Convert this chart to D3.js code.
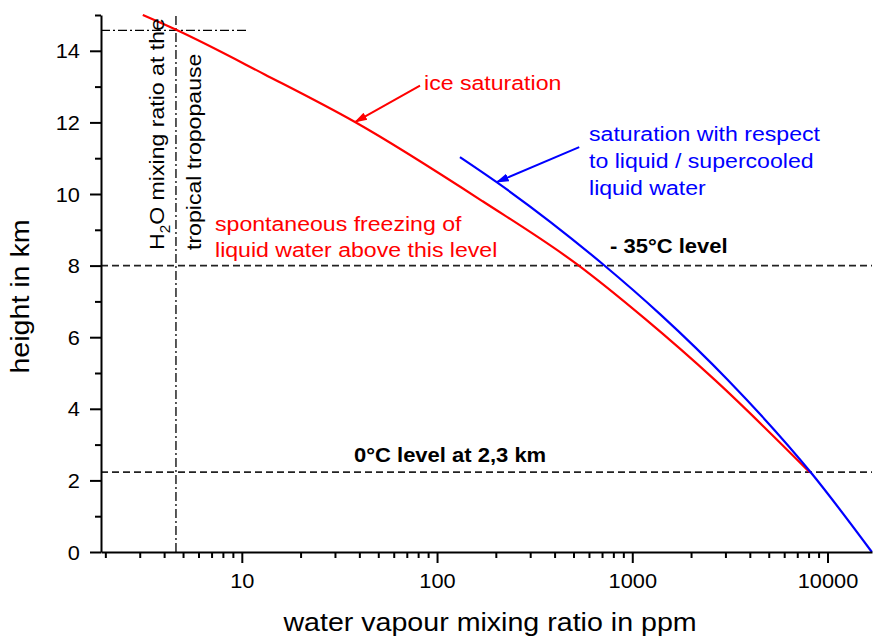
<!DOCTYPE html>
<html>
<head>
<meta charset="utf-8">
<script src="https://cdn.jsdelivr.net/npm/d3@7"></script>
<style>
  body { margin: 0; background: #fff; }
  text { font-family: "Liberation Sans", Arial, sans-serif; }
</style>
</head>
<body>
<svg id="chart" width="874" height="639"></svg>
<script>
// ice saturation curve (ppm, km)
var icePpm    = [3.11, 4.64, 13.1, 38.0, 172, 520, 1164, 2655, 8130];
var iceHeight = [15.0, 14.58, 13.34, 12.01, 9.79, 8.04, 6.51, 4.80, 2.22];

// saturation over liquid / supercooled water (ppm, km)
var liquidPpm    = [131, 202, 710, 1396, 3105, 8280, 16870];
var liquidHeight = [11.03, 10.33, 8.03, 6.63, 4.79, 2.2, 0];

var yTicks = [0, 2, 4, 6, 8, 10, 12, 14];
var yMinor = [1, 3, 5, 7, 9, 11, 13, 15];
var xTicks = [10, 100, 1000, 10000];

// -35°C level and 0°C level
var levelHeights = [8.0, 2.23];

// tropopause marker lines
var tropoPpm = 4.6, tropoHeight = 14.57, tropoLineEnd = 10.8;

// arrows: [fromPpm, fromKm, toPpm, toKm]
var iceArrow = [81.8, 13.03, 38.0, 12.01];
var liqArrow = [535, 11.31, 202, 10.33];

var svg = d3.select("#chart");

var x = d3.scaleLog().domain([1.9, 16900]).range([101, 872]);
var y = d3.scaleLinear().domain([0, 15]).range([552, 15]);

// text helper, glyphs are a bit wider than Arial in the original
function addText(px, py, str, o) {
  o = o || {};
  return svg.append("text")
    .attr("transform", "translate(" + px + "," + py + ")" + (o.rotate ? " rotate(-90)" : "") + " scale(" + (o.sx || 1.1) + ",1)")
    .attr("font-size", o.size || 21)
    .attr("fill", o.color || "#000")
    .attr("text-anchor", o.anchor || "start")
    .attr("font-weight", o.bold ? "bold" : null)
    .text(str);
}

// level lines (dashed)
svg.selectAll(".level")
  .data(levelHeights)
  .enter().append("line")
  .attr("class", "level")
  .attr("x1", x(1.9)).attr("x2", x(16900))
  .attr("y1", d => y(d)).attr("y2", d => y(d))
  .attr("stroke", "#222")
  .attr("stroke-width", 1.6)
  .attr("stroke-dasharray", "7,4");

// tropopause dash-dot lines
svg.append("line")
  .attr("x1", x(tropoPpm)).attr("x2", x(tropoPpm))
  .attr("y1", y(0)).attr("y2", y(15))
  .attr("stroke", "#000").attr("stroke-width", 1.3)
  .attr("stroke-dasharray", "9,3,2,3");
svg.append("line")
  .attr("x1", x(1.9)).attr("x2", x(tropoLineEnd))
  .attr("y1", y(tropoHeight)).attr("y2", y(tropoHeight))
  .attr("stroke", "#000").attr("stroke-width", 1.3)
  .attr("stroke-dasharray", "9,3,2,3");

// curves
var line = d3.line()
  .x(d => x(d[0]))
  .y(d => y(d[1]))
  .curve(d3.curveMonotoneX);

svg.append("path")
  .datum(d3.zip(icePpm, iceHeight))
  .attr("d", line)
  .attr("fill", "none")
  .attr("stroke", "#ff0000")
  .attr("stroke-width", 2.2);

svg.append("path")
  .datum(d3.zip(liquidPpm, liquidHeight))
  .attr("d", line)
  .attr("fill", "none")
  .attr("stroke", "#0000ff")
  .attr("stroke-width", 2.2);

// axes
var yAxis = svg.append("g")
  .attr("transform", "translate(" + x(1.9) + ",0)")
  .call(d3.axisLeft(y).tickValues(yTicks).tickSize(11).tickSizeOuter(0).tickFormat(d3.format("d")));
yAxis.selectAll("text")
  .attr("x", null)
  .attr("dy", "0.35em")
  .attr("font-size", 20)
  .attr("font-family", null)
  .attr("transform", "translate(-21,0) scale(1.09,1)");

svg.append("g")
  .attr("transform", "translate(" + x(1.9) + ",0)")
  .call(d3.axisLeft(y).tickValues(yMinor).tickSize(6).tickFormat(""))
  .select(".domain").remove();

var minorX = [];
[1, 10, 100, 1000, 10000].forEach(function (dec) {
  for (var k = 2; k <= 9; k++) if (dec * k > 1.9 && dec * k < 16900) minorX.push(dec * k);
});

var xAxis = svg.append("g")
  .attr("transform", "translate(0," + y(0) + ")")
  .call(d3.axisBottom(x).tickValues(xTicks).tickSize(11).tickSizeOuter(0).tickFormat(d3.format("d")));
xAxis.selectAll("text")
  .attr("y", null)
  .attr("dy", null)
  .attr("font-size", 20)
  .attr("font-family", null)
  .attr("transform", "translate(0,36) scale(1.09,1)");

svg.append("g")
  .attr("transform", "translate(0," + y(0) + ")")
  .call(d3.axisBottom(x).tickValues(minorX).tickSize(6).tickFormat(""))
  .select(".domain").remove();

svg.selectAll(".domain, .tick line")
  .attr("stroke", "#000")
  .attr("stroke-width", 2);

// axis titles
addText(490, 631, "water vapour mixing ratio in ppm", { size: 26, anchor: "middle" });
addText(28.5, 296.5, "height in km", { size: 26, anchor: "middle", rotate: true });

// arrow markers
var defs = svg.append("defs");
[["arrRed", "#ff0000"], ["arrBlue", "#0000ff"]].forEach(function (m) {
  defs.append("marker")
    .attr("id", m[0])
    .attr("viewBox", "0 -5 13 10")
    .attr("refX", 12)
    .attr("refY", 0)
    .attr("markerWidth", 13)
    .attr("markerHeight", 10)
    .attr("markerUnits", "userSpaceOnUse")
    .attr("orient", "auto")
    .append("path")
    .attr("d", "M0,-4L13,0L0,4Z")
    .attr("fill", m[1]);
});

svg.append("line")
  .attr("x1", x(iceArrow[0])).attr("y1", y(iceArrow[1]))
  .attr("x2", x(iceArrow[2])).attr("y2", y(iceArrow[3]))
  .attr("stroke", "#ff0000").attr("stroke-width", 2)
  .attr("marker-end", "url(#arrRed)");

svg.append("line")
  .attr("x1", x(liqArrow[0])).attr("y1", y(liqArrow[1]))
  .attr("x2", x(liqArrow[2])).attr("y2", y(liqArrow[3]))
  .attr("stroke", "#0000ff").attr("stroke-width", 2)
  .attr("marker-end", "url(#arrBlue)");

// annotations
addText(424, 90, "ice saturation", { color: "#ff0000" });
addText(589, 141, "saturation with respect", { color: "#0000ff" });
addText(589, 168, "to liquid / supercooled", { color: "#0000ff" });
addText(589, 195, "liquid water", { color: "#0000ff" });
addText(215, 231, "spontaneous freezing of", { color: "#ff0000" });
addText(215, 257, "liquid water above this level", { color: "#ff0000" });
addText(610, 253, "- 35°C level", { size: 20, bold: true });
addText(354, 461.5, "0°C level at 2,3 km", { size: 20, bold: true });

var h2o = addText(164, 250, "H", { size: 21, rotate: true });
h2o.append("tspan").attr("font-size", 14).attr("dy", 6).text("2");
h2o.append("tspan").attr("dy", -6).text("O mixing ratio at the");
addText(201, 250, "tropical tropopause", { size: 21, rotate: true });
</script>
</body>
</html>
